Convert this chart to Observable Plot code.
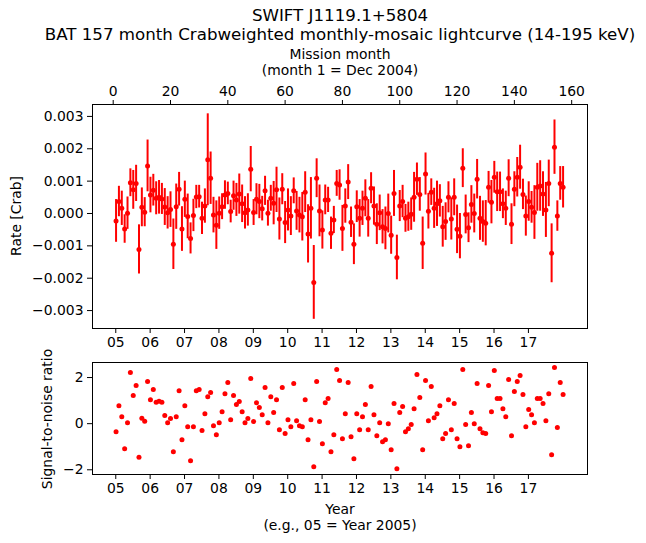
<!DOCTYPE html>
<html><head><meta charset="utf-8">
<script src="https://cdn.jsdelivr.net/npm/d3@7"></script>
<script src="https://cdn.jsdelivr.net/npm/@observablehq/plot@0.6"></script>
<style>
body{margin:0;background:#fff;}
#wrap{position:relative;width:646px;height:543px;font-family:"DejaVu Sans",sans-serif;}
#wrap svg{position:absolute;left:0;overflow:visible;}
</style></head><body><div id="wrap"></div>
<script>
// Signal-to-noise ratio, months 1..157
const snr = [-0.35,0.78,0.30,-1.09,0.04,2.22,1.22,1.65,-1.46,0.23,
0.10,1.83,1.04,1.48,0.93,0.97,0.93,0.35,0.04,0.22,
-1.22,0.30,1.43,-0.70,0.78,-0.13,-1.61,-0.13,1.43,1.48,
-0.30,0.43,1.17,1.35,-0.09,-0.48,0.04,0.52,1.30,1.78,
0.17,1.22,0.83,0.96,0.52,0.04,0.22,1.96,0.09,0.91,
0.70,0.39,1.57,0.04,1.17,0.48,1.04,-0.26,1.57,-0.43,
0.17,-0.13,1.74,0.13,-0.09,-0.13,1.04,-0.70,0.17,-1.87,
1.83,0.09,-0.87,0.91,1.09,-1.22,-0.48,2.35,1.87,-0.65,
0.43,1.78,-0.57,-1.52,0.43,-0.26,0.30,0.83,-0.26,1.61,
0.39,-0.52,0.04,-0.78,-0.70,0.00,-1.13,0.87,-1.96,0.48,
0.74,-0.35,-0.22,-0.04,0.65,2.13,1.13,-1.13,1.87,0.13,
1.61,0.26,0.43,0.78,-0.65,-0.43,1.04,-0.26,0.87,-0.65,
-1.00,2.35,-0.04,-0.96,0.48,0.00,1.74,-0.22,-0.39,-0.43,
1.65,0.52,2.30,1.09,1.09,0.65,0.30,1.91,-0.52,1.39,
1.83,2.09,1.26,-0.13,0.61,0.39,0.04,1.09,1.09,0.87,
0.13,1.30,-1.35,2.43,-0.17,1.78,1.26];
// Rate in units of 1e-3 Crab
const rate = [-0.23,0.37,0.16,-0.48,0.01,0.95,0.73,0.93,-1.11,0.19,
0.04,1.47,0.57,0.72,0.47,0.50,0.45,0.20,0.02,0.12,
-0.95,0.21,0.75,-0.48,0.44,-0.09,-0.77,-0.06,0.51,0.52,
-0.15,0.23,1.66,1.09,-0.05,-0.36,0.01,0.21,0.57,0.62,
0.06,0.55,0.42,0.60,0.30,0.02,0.11,1.37,0.03,0.44,
0.37,0.15,0.70,0.01,0.47,0.32,0.73,-0.17,0.75,-0.28,
0.11,-0.08,0.70,0.08,-0.05,-0.10,0.66,-0.63,0.16,-2.13,
1.09,0.08,-0.51,0.42,0.42,-0.61,-0.20,0.93,0.88,-0.46,
0.23,0.97,-0.27,-0.95,0.21,-0.15,0.16,0.47,-0.15,0.78,
0.23,-0.33,0.02,-0.41,-0.46,0.00,-0.67,0.62,-1.36,0.23,
0.37,-0.15,-0.10,-0.02,0.50,1.06,0.59,-0.92,1.22,0.07,
0.66,0.16,0.30,0.39,-0.41,-0.25,0.50,-0.17,0.50,-0.49,
-0.70,1.40,-0.03,-0.44,0.28,0.00,1.06,-0.15,-0.25,-0.30,
0.81,0.35,1.12,0.67,0.67,0.30,0.16,1.09,-0.33,0.75,
1.12,1.43,0.59,-0.08,0.37,0.19,0.03,0.81,0.85,0.60,
0.11,0.93,-1.23,2.05,-0.08,0.93,0.81];
// 1-sigma error in units of 1e-3 Crab
const err = [0.66,0.47,0.53,0.44,0.50,0.43,0.60,0.56,0.76,0.60,
0.45,0.80,0.55,0.49,0.51,0.52,0.48,0.57,0.50,0.55,
0.78,0.70,0.52,0.69,0.56,0.69,0.48,0.50,0.36,0.35,
0.50,0.53,1.42,0.81,0.55,0.75,0.50,0.40,0.44,0.35,
0.35,0.45,0.51,0.62,0.58,0.50,0.50,0.70,0.40,0.48,
0.53,0.38,0.45,0.40,0.40,0.67,0.70,0.65,0.48,0.65,
0.65,0.60,0.40,0.60,0.55,0.75,0.63,0.90,0.95,1.14,
0.60,0.80,0.59,0.46,0.39,0.50,0.42,0.40,0.47,0.71,
0.53,0.54,0.47,0.63,0.49,0.58,0.53,0.57,0.58,0.48,
0.59,0.63,0.55,0.53,0.66,0.60,0.59,0.71,0.69,0.48,
0.50,0.43,0.45,0.50,0.77,0.50,0.52,0.81,0.65,0.55,
0.41,0.62,0.70,0.50,0.63,0.58,0.48,0.65,0.57,0.75,
0.70,0.60,0.60,0.46,0.58,0.60,0.61,0.68,0.64,0.70,
0.49,0.67,0.49,0.61,0.61,0.46,0.53,0.57,0.63,0.54,
0.61,0.68,0.47,0.62,0.61,0.49,0.83,0.74,0.78,0.69,
0.85,0.72,0.91,0.84,0.47,0.52,0.64];
const monthTicks = [0,20,40,60,80,100,120,140,160];
const yearLabels = ["05","06","07","08","09","10","11","12","13","14","15","16","17"];
const rateTicks = [-0.003,-0.002,-0.001,0,0.001,0.002,0.003];
const snrTicks = [-2,0,2];

const data = rate.map((r,k)=>({m:k+1, r:r/1000, e:err[k]/1000, s:snr[k]}));
const yearPos = yearLabels.map(y => 12*(+y-5)+0.9);
const yearFmt = d => yearLabels[Math.round((d-0.9)/12)];
const xDomain = [-7.22, 165.52];
const RED = "#ff0000";
const FS = "13.9px";
const baseStyle = {fontFamily:"DejaVu Sans", fontSize:FS, color:"black", background:"transparent", overflow:"visible"};

const topPlot = Plot.plot({
  width:646, height:352, marginTop:104, marginBottom:24, marginLeft:92, marginRight:59,
  style: baseStyle,
  x:{domain:xDomain},
  y:{domain:[-0.003554,0.003368]},
  marks:[
    Plot.ruleX(data,{x:"m", y1:d=>d.r-d.e, y2:d=>d.r+d.e, stroke:RED, strokeWidth:2}),
    Plot.dot(data,{x:"m", y:"r", r:2.5, fill:RED, stroke:null}),
    Plot.frame({stroke:"black", strokeWidth:1}),
    Plot.axisX({anchor:"top", ticks:monthTicks, tickFormat:d3.format("d"), tickSize:5, tickPadding:4, label:null}),
    Plot.axisX({anchor:"bottom", ticks:yearPos, tickFormat:yearFmt, tickSize:5, tickPadding:4, label:null}),
    Plot.axisY({ticks:rateTicks, tickFormat:d3.format(".3f"), tickSize:5, tickPadding:4, label:null})
  ]
});
topPlot.style.top = "0px";

const botPlot = Plot.plot({
  width:646, height:191, marginTop:10, marginBottom:69, marginLeft:92, marginRight:59,
  style: baseStyle,
  x:{domain:xDomain},
  y:{domain:[-2.204,2.652]},
  marks:[
    Plot.dot(data,{x:"m", y:"s", r:2.5, fill:RED, stroke:null}),
    Plot.frame({stroke:"black", strokeWidth:1}),
    Plot.axisX({anchor:"bottom", ticks:yearPos, tickFormat:yearFmt, tickSize:5, tickPadding:4, label:null}),
    Plot.axisY({ticks:snrTicks, tickFormat:d3.format("d"), tickSize:5, tickPadding:4, label:null})
  ]
});
botPlot.style.top = "352px";

const wrap = document.getElementById("wrap");
wrap.appendChild(topPlot);
wrap.appendChild(botPlot);

// text overlay
const ov = d3.select(wrap).append("svg").attr("width",646).attr("height",543)
  .style("top","0px").style("pointer-events","none")
  .attr("font-family","DejaVu Sans").attr("fill","black");
const t = (x,y,s,size,rot) => {
  const el = ov.append("text").attr("text-anchor","middle").attr("font-size",size).text(s);
  if (rot) el.attr("transform",`translate(${x},${y}) rotate(-90)`).attr("dy","0.35em");
  else el.attr("x",x).attr("y",y);
};
t(340,21,"SWIFT J1119.1+5804","16.67px");
t(340,40,"BAT 157 month Crabweighted monthly-mosaic lightcurve (14-195 keV)","16.67px");
t(340,59,"Mission month",FS);
t(340,75,"(month 1 = Dec 2004)",FS);
t(16,216,"Rate [Crab]",FS,true);
t(47,419,"Signal-to-noise ratio",FS,true);
t(340,514,"Year",FS);
t(340,530,"(e.g., 05 = Year 2005)",FS);
</script></body></html>
